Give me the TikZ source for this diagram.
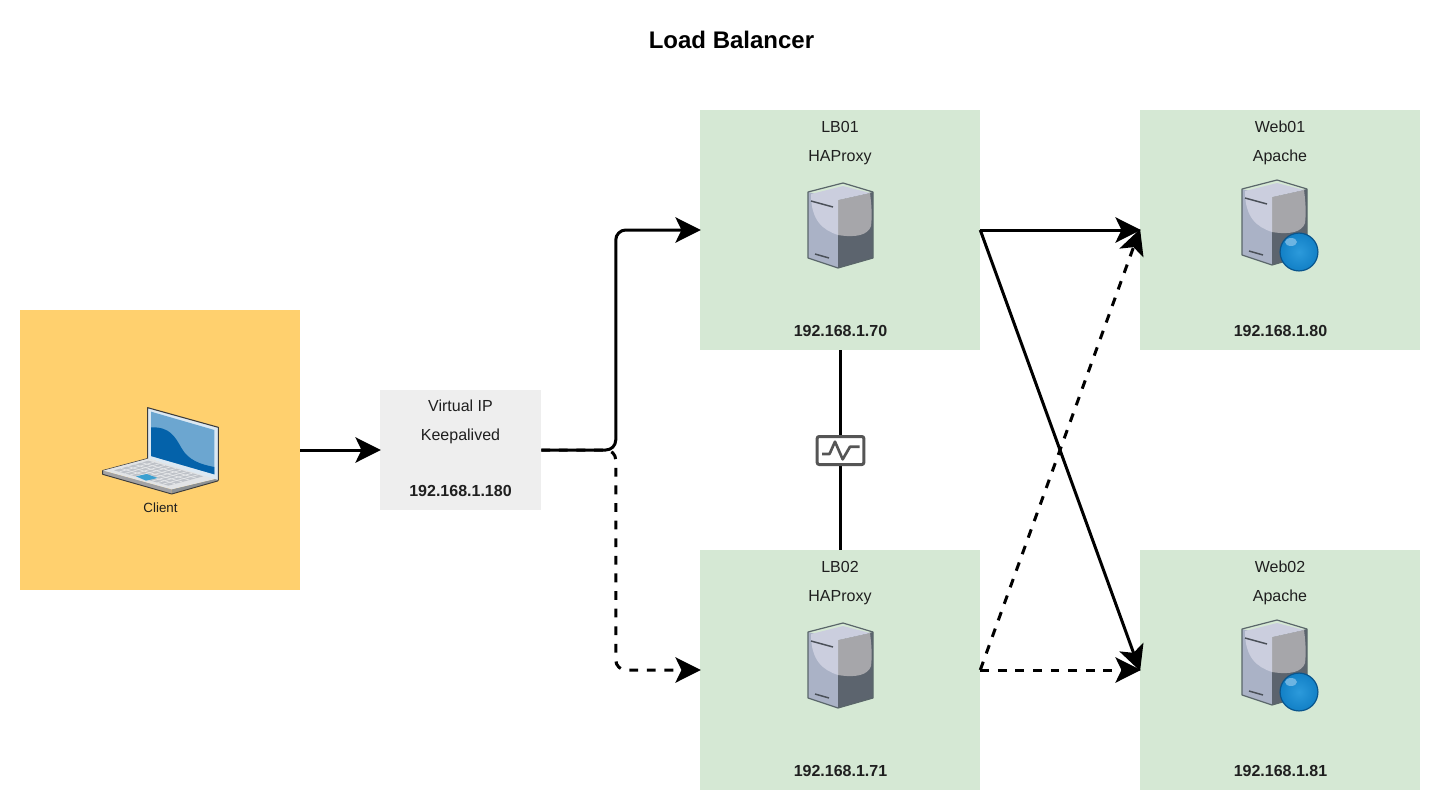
\documentclass[tikz,border=0pt]{standalone}
\usepackage{fontspec}
\setmainfont{Liberation Sans}
\usetikzlibrary{arrows.meta}
\definecolor{boxgreen}{HTML}{D5E8D4}
\definecolor{boxorange}{HTML}{FFD06E}
\definecolor{boxgrey}{HTML}{EEEEEE}
\definecolor{iconedge}{HTML}{5A666A}
\definecolor{hbgrey}{HTML}{555555}
\definecolor{srvleft}{HTML}{AAB2C6}
\definecolor{srvright}{HTML}{5C646E}
\definecolor{srvrighthi}{HTML}{A6A6AA}
\definecolor{srvtop}{HTML}{CBCEDE}
\definecolor{srvline}{HTML}{4A5058}
\definecolor{ballmain}{HTML}{1280C6}
\definecolor{ballinner}{HTML}{2C9ADB}
\definecolor{balledge}{HTML}{0A558C}
\definecolor{ballhi}{HTML}{6DB4E2}
\definecolor{lapfront}{HTML}{A2A2A4}
\definecolor{lapside}{HTML}{8E9294}
\definecolor{lapdeck}{HTML}{E2E4E6}
\definecolor{lapkeys}{HTML}{BEC2C8}
\definecolor{lapkeyline}{HTML}{E6E8EA}
\definecolor{lappad}{HTML}{3CA0D0}
\definecolor{lapbezel}{HTML}{DCE8F2}
\definecolor{lapedge}{HTML}{3C3C3C}
\definecolor{lapscreen}{HTML}{6CA6D0}
\definecolor{lapwave}{HTML}{0462AA}
\tikzset{
  panel/.style={draw=none,minimum width=210pt,minimum height=180pt,inner sep=0pt,fill=boxgreen},
  txt/.style={font=\fontsize{12pt}{14pt}\selectfont,inner sep=0pt,text=black!88},
  ipt/.style={txt,font=\fontsize{12pt}{14pt}\selectfont\bfseries},
  conn/.style={line width=2.25pt,draw=black,shorten >=-0.8pt,-{Stealth[length=19pt,width=19pt,inset=4.5pt]}},
  link/.style={line width=2.25pt,draw=black},
  dash line/.style={dash pattern=on 6.6pt off 6.6pt},
  pics/serverbox/.style={code={
    \fill[srvleft] (0,9)--(30,17)--(30,85)--(0,75)--cycle;
    \fill[srvright] (30,17)--(65,9)--(65,75)--(30,85)--cycle;
    \fill[srvrighthi] (30,17)--(62,10) .. controls (64,25) and (64,35) .. (63,43) .. controls (60,52) and (48,55) .. (30,52)--cycle;
    \fill[srvtop] (3,11)--(35,3)--(62,10)--(30,17)--(30,52) .. controls (15,47) and (3,38) .. (3,11)--cycle;
    \draw[iconedge,line width=0.9pt,line join=round] (0,9)--(35,0)--(65,9)--(65,75)--(30,85)--(0,75)--cycle;
    \draw[srvline,line width=1.1pt] (3,18)--(25,24);
    \draw[srvline,line width=1.1pt] (7,71)--(21,75);
  }},
  pics/globeball/.style={code={
    \shade[inner color=ballinner,outer color=ballmain] (0,0) circle[radius=14.2pt];
    \draw[balledge,line width=0.9pt] (0,0) circle[radius=14.2pt];
    \fill[ballhi] (-8,-10) ellipse[x radius=6,y radius=4];
  }}
}
\begin{document}
\begin{tikzpicture}[x=0.75pt,y=-0.75pt]
\useasboundingbox (0,0) rectangle (1440,810);
\fill[white] (0,0) rectangle (1440,810);

\node[font=\fontsize{18pt}{22pt}\selectfont\bfseries,inner sep=0pt] (title) at (731.5,40) {Load Balancer};

% panels
\node[panel,minimum width=210pt,minimum height=210pt,fill=boxorange] (client) at (160,450) {};
\node[panel,minimum width=120.75pt,minimum height=90pt,fill=boxgrey] (vip) at (460.5,450) {};
\node[panel] (lb1) at (840,230) {};
\node[panel] (lb2) at (840,670) {};
\node[panel] (web1) at (1280,230) {};
\node[panel] (web2) at (1280,670) {};

% connectors
\draw[conn] (client.east) -- (vip.west);
\draw[conn,rounded corners=7.5pt,dash line] (vip.east) -- ++(74.5,0) |- (lb2.west);
\draw[conn,rounded corners=7.5pt] (vip.east) -- ++(74.5,0) |- (lb1.west);
\draw[conn] (lb1.east) -- (web1.west);
\draw[conn] (lb1.east) -- (web2.west);
\draw[conn,dash line] (lb2.east) -- (web1.west);
\draw[conn,dash line] (lb2.east) -- (web2.west);
\draw[link] (lb1.south) -- (lb2.north);

% heartbeat
\node[draw=hbgrey,fill=white,line width=2.25pt,rounded corners=1.5pt,minimum width=35pt,minimum height=21pt,inner sep=0pt] (hb) at (840.5,450.5) {};
\draw[hbgrey,line width=2pt,line join=round] (822,454)--(829.5,454)--(835,441.7)--(842.7,459.3)--(850,446.7)--(859.5,446.7);

% labels
\node[txt] (t1) at (840,127) {LB01};
\node[txt] (t2) at (840,157.5) {HAProxy};
\node[ipt] (t3) at (840.5,331) {192.168.1.70};
\node[txt] (t4) at (840,567) {LB02};
\node[txt] (t5) at (840,597.5) {HAProxy};
\node[ipt] (t6) at (840.5,771) {192.168.1.71};
\node[txt] (t7) at (1280,127) {Web01};
\node[txt] (t8) at (1280,157) {Apache};
\node[ipt] (t9) at (1280.5,331) {192.168.1.80};
\node[txt] (t10) at (1280,567) {Web02};
\node[txt] (t11) at (1280,597) {Apache};
\node[ipt] (t12) at (1280.5,771) {192.168.1.81};
\node[txt] (t13) at (460.5,406) {Virtual IP};
\node[txt] (t14) at (460.5,436.5) {Keepalived};
\node[ipt] (t15) at (460.5,491) {192.168.1.180};
\node[txt,font=\fontsize{10pt}{12pt}\selectfont] (t16) at (160.5,508) {Client};

% server icons
\pic at (808,183) {serverbox};
\pic at (808,623) {serverbox};
\pic at (1242,180) {serverbox};
\pic at (1242,620) {serverbox};
\pic at (1299,252) {globeball};
\pic at (1299,692) {globeball};

% laptop
\begin{scope}[shift={(90,395)},x=0.25pt,y=-0.25pt,line join=round]
  \fill[lapfront] (38,226)--(245,283)--(245,297)--(38,238)--cycle;
  \fill[lapside] (245,283)--(383,250)--(383,258)--(245,297)--cycle;
  \fill[lapdeck] (38,226)--(173,190)--(383,250)--(245,283)--cycle;
  \fill[lapkeys] (72,226)--(175,197)--(340,244)--(235,272)--cycle;
  \foreach \k in {0.2,0.4,0.6,0.8}{
    \draw[lapkeyline,line width=0.5pt] ({72+\k*103},{226-\k*29})--({235+\k*105},{272-\k*28});
  }
  \foreach \k in {0.1,0.2,0.3,0.4,0.5,0.6,0.7,0.8,0.9}{
    \draw[lapkeyline,line width=0.5pt] ({72+\k*163},{226+\k*46})--({175+\k*165},{197+\k*47});
  }
  \fill[lappad] (138,244)--(170,237)--(203,249)--(168,257)--cycle;
  \fill[lapbezel] (173,38)--(385,97)--(385,255)--(173,190)--cycle;
  \draw[lapedge,line width=0.7pt] (38,226)--(38,238)--(245,297)--(383,258)--(385,255);
  \draw[lapedge,line width=0.4pt] (38,226)--(173,190);
  \draw[lapedge,line width=0.8pt] (173,190)--(173,38)--(385,97)--(385,255);
  \fill[lapscreen] (183,50)--(373,105)--(373,238)--(183,183)--cycle;
  \fill[lapwave] (183,97) .. controls (240,95) and (255,125) .. (275,160) .. controls (295,195) and (330,208) .. (373,216) -- (373,238) -- (183,183) -- cycle;
\end{scope}
\end{tikzpicture}
\end{document}
